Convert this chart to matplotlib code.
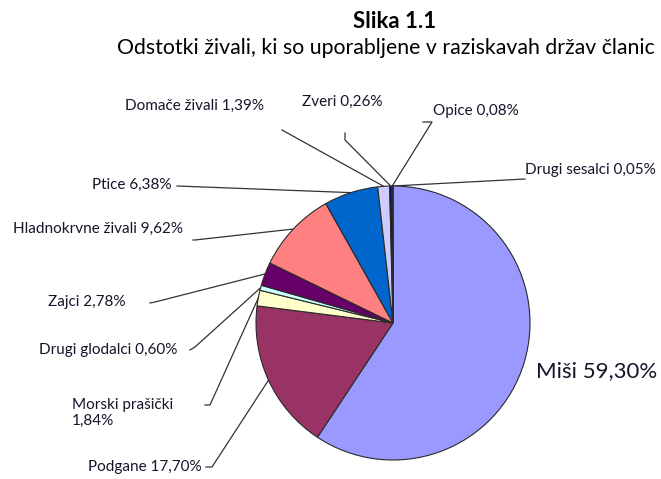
import matplotlib.pyplot as plt
import numpy as np

plt.rcParams['font.family'] = ['Lato', 'DejaVu Sans']

W, H = 661, 479

labels = ['Miši', 'Podgane', 'Morski prašički', 'Drugi glodalci', 'Zajci',
          'Hladnokrvne živali', 'Ptice', 'Domače živali', 'Zveri', 'Opice',
          'Drugi sesalci']
shares = [59.30, 17.70, 1.84, 0.60, 2.78, 9.62, 6.38, 1.39, 0.26, 0.08, 0.05]
colors = ['#9999FF', '#993366', '#FFFFCC', '#CCFFFF', '#660066', '#FF8080',
          '#0066CC', '#CCCCFF', '#000080', '#FF00FF', '#FFFF00']

# label placement in pixels (top-left origin): text x, text y, alignment, leader start
FS = 11
layout = {
    'Miši':               dict(xy=(536, 371), ha='left', size=16, line=None),
    'Podgane':            dict(xy=(202, 467), ha='right', size=FS, line=[(212, 467), (206, 467)]),
    'Morski prašički':    dict(xy=(72, 413), ha='left', size=FS, line=[(210, 405), (205, 405)]),
    'Drugi glodalci':     dict(xy=(177, 350), ha='right', size=FS, line=[(195, 347), (190, 350)]),
    'Zajci':              dict(xy=(125, 302), ha='right', size=FS, line=[(155, 302), (150, 303)]),
    'Hladnokrvne živali': dict(xy=(183, 229), ha='right', size=FS, line=[(195, 240), (193, 240)]),
    'Ptice':              dict(xy=(172, 185), ha='right', size=FS, line=[(177, 186)]),
    'Domače živali':      dict(xy=(264, 106), ha='right', size=FS, line=[(282, 130)]),
    'Zveri':              dict(xy=(302, 102), ha='left', size=FS, line=[(345, 140), (345, 133)]),
    'Opice':              dict(xy=(433, 111), ha='left', size=FS, line=[(432, 122), (423, 122)]),
    'Drugi sesalci':      dict(xy=(525, 170), ha='left', size=FS, line=[(525, 179)]),
}

fig = plt.figure(figsize=(W / 100, H / 100), dpi=100)
ax = fig.add_axes([0, 0, 1, 1])

cx, cy, r = 393, H - 323, 137
wedges, _ = ax.pie(shares, colors=colors, startangle=90, counterclock=False,
                   center=(cx, cy), radius=r,
                   wedgeprops=dict(edgecolor='#2a2a2a', linewidth=0.8))
ax.set_xlim(0, W)
ax.set_ylim(0, H)
ax.set_aspect('equal')
ax.axis('off')

txt = '#15152a'
for w, name, val in zip(wedges, labels, shares):
    lay = layout[name]
    pct = f'{val:.2f}%'.replace('.', ',')
    s = f'{name} {pct}' if name != 'Morski prašički' else f'{name}\n{pct}'
    x, y = lay['xy']
    ax.text(x, H - y, s, ha=lay['ha'], va='center', fontsize=lay['size'],
            color=txt, linespacing=1.15)
    if lay['line']:
        mid = np.deg2rad((w.theta1 + w.theta2) / 2)
        ex, ey = cx + r * np.cos(mid), cy + r * np.sin(mid)
        pts = [(px, H - py) for px, py in lay['line'][::-1]] + [(ex, ey)]
        xs, ys = zip(*pts)
        ax.plot(xs, ys, color='#333333', lw=0.9, zorder=0)

fig.text(395 / W, 1 - 21 / H, 'Slika 1.1', ha='center', va='center',
         fontsize=16, fontweight='bold', color='black')
fig.text(386 / W, 1 - 48 / H,
         'Odstotki živali, ki so uporabljene v raziskavah držav članic',
         ha='center', va='center', fontsize=15.3, color='black')

fig.savefig('out.png', dpi=100)
